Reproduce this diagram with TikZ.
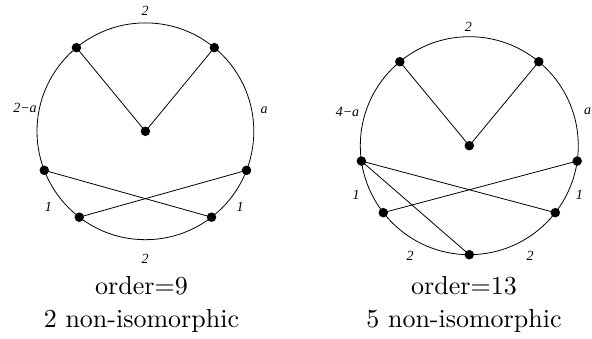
\documentclass[tikz,border=0pt]{standalone}
\usepackage{fontspec}
\usetikzlibrary{calc}
\newfontfamily\labfont{Liberation Serif}
\newfontfamily\capfont{lmroman10-regular.otf}
\begin{document}
\begin{tikzpicture}[x=1pt,y=1pt,
  vdot/.style={circle,fill=black,inner sep=0pt,minimum size=9.5pt},
  ring/.style={line width=0.8pt},
  edge/.style={line width=0.8pt},
  lab/.style={font=\labfont\itshape\fontsize{14}{14}\selectfont,inner sep=0pt},
  captext/.style={font=\capfont\fontsize{26}{30}\selectfont,inner sep=0pt,anchor=base}]
\useasboundingbox (0,0) rectangle (592,339);
% ---------- left graph ----------
\coordinate (L) at (145.4,207.7);
\draw[ring] (L) circle (108.4);
\node[vdot] (l0) at (L) {};
\node[vdot] (l1) at ($(L)+(129.5:108.4)$) {};
\node[vdot] (l2) at ($(L)+(50.5:108.4)$) {};
\node[vdot] (l3) at ($(L)+(201.1:108.4)$) {};
\node[vdot] (l4) at ($(L)+(338.9:108.4)$) {};
\node[vdot] (l5) at ($(L)+(232.4:108.4)$) {};
\node[vdot] (l6) at ($(L)+(307.6:108.4)$) {};
\draw[edge] (l1.center) -- (l0.center) -- (l2.center);
\draw[edge] (l3.center) -- (l6.center);
\draw[edge] (l4.center) -- (l5.center);
\node[lab] (lt) at (145,328.5) {2};
\node[lab] (ll) at (25,231.5) {2−a};
\node[lab] (lr) at (264,229) {a};
\node[lab] (l1a) at (48.5,132) {1};
\node[lab] (l1b) at (240,132) {1};
\node[lab] (lb) at (145,80.5) {2};
\node[captext] (lc1) at (141.5,44) {order=9};
\node[captext] (lc2) at (141.5,11.5) {2 non-isomorphic};
% ---------- right graph ----------
\coordinate (R) at (469.3,193.3);
\draw[ring] (R) circle (109);
\node[vdot] (r0) at (R) {};
\node[vdot] (r1) at ($(R)+(129.6:109)$) {};
\node[vdot] (r2) at ($(R)+(50.4:109)$) {};
\node[vdot] (r3) at ($(R)+(188.1:109)$) {};
\node[vdot] (r4) at ($(R)+(351.9:109)$) {};
\node[vdot] (r5) at ($(R)+(217.9:109)$) {};
\node[vdot] (r6) at ($(R)+(322.1:109)$) {};
\node[vdot] (r7) at ($(R)+(270:109)$) {};
\draw[edge] (r1.center) -- (r0.center) -- (r2.center);
\draw[edge] (r3.center) -- (r6.center);
\draw[edge] (r3.center) -- (r7.center);
\draw[edge] (r4.center) -- (r5.center);
\node[lab] (rt) at (468.3,312.3) {2};
\node[lab] (rl) at (347.5,227) {4−a};
\node[lab] (rr) at (587.5,227.5) {a};
\node[lab] (r1a) at (356,144) {1};
\node[lab] (r1b) at (579.3,144) {1};
\node[lab] (rb1) at (410,83) {2};
\node[lab] (rb2) at (530,83) {2};
\node[captext] (rc1) at (464,44) {order=13};
\node[captext] (rc2) at (464,11.5) {5 non-isomorphic};
\end{tikzpicture}
\end{document}
